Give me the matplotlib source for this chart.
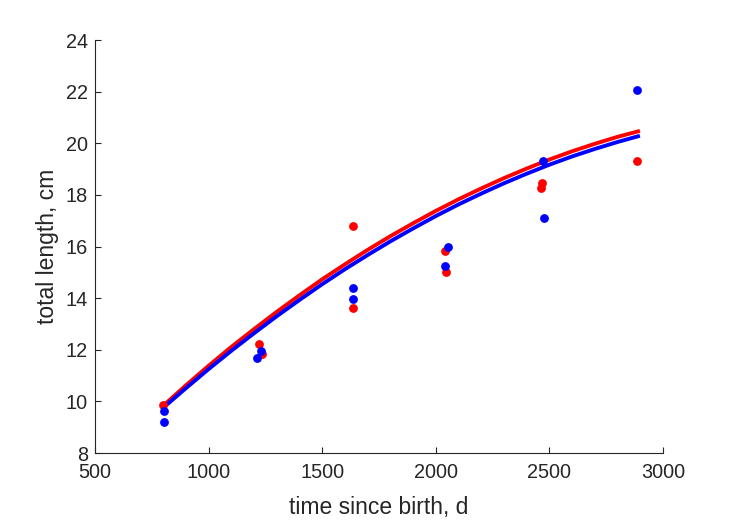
import matplotlib
matplotlib.use('Agg')
import matplotlib.pyplot as plt

blue_t = [804, 804, 1212, 1229, 1636, 1636, 2055, 2042, 2472, 2476, 2887]
blue_L = [9.21, 9.62, 11.67, 11.95, 14.38, 13.97, 15.98, 15.24, 19.32, 17.12, 22.07]
red_t = [801, 1223, 1234, 1634, 1634, 2042, 2046, 2466, 2464, 2887]
red_L = [9.85, 12.21, 11.84, 16.80, 13.63, 15.84, 15.00, 18.45, 18.26, 19.31]

# fitted growth curves
curve_t = [800, 900, 1000, 1100, 1200, 1300, 1400, 1500, 1600, 1700, 1800,
           1900, 2000, 2100, 2200, 2300, 2400, 2500, 2600, 2700, 2800, 2890]
blue_fit = [9.75, 10.51, 11.25, 11.96, 12.64, 13.30, 13.93, 14.54, 15.12, 15.67, 16.20,
            16.70, 17.18, 17.63, 18.05, 18.45, 18.82, 19.17, 19.49, 19.78, 20.05, 20.27]
red_fit = [9.83, 10.62, 11.38, 12.11, 12.80, 13.47, 14.11, 14.73, 15.31, 15.87, 16.40,
           16.90, 17.38, 17.83, 18.25, 18.65, 19.02, 19.37, 19.69, 19.98, 20.25, 20.46]

plt.rcParams['font.family'] = ['Liberation Sans', 'DejaVu Sans']
dark = '#262626'

fig = plt.figure(figsize=(7.29, 5.21), dpi=100)
ax = fig.add_axes([0.1303, 0.1305, 0.7792, 0.7927])

ax.plot(curve_t, red_fit, color='red', lw=2.8, zorder=2)
ax.plot(curve_t, blue_fit, color='blue', lw=2.8, zorder=3)
ax.scatter(red_t, red_L, s=40, color='red', lw=0, zorder=4)
ax.scatter(blue_t, blue_L, s=40, color='blue', lw=0, zorder=5)

ax.set_xlim(500, 3000)
ax.set_ylim(8, 24)
ax.set_xticks(range(500, 3001, 500))
ax.set_yticks(range(8, 25, 2))
ax.spines['top'].set_visible(False)
ax.spines['right'].set_visible(False)
for s in ['left', 'bottom']:
    ax.spines[s].set_color(dark)
    ax.spines[s].set_linewidth(0.8)
ax.tick_params(direction='in', length=4, width=0.8, colors=dark, labelsize=14.3)
ax.tick_params(axis='x', pad=7)
ax.tick_params(axis='y', pad=5)
ax.set_xlabel('time since birth, d', fontsize=16.5, color=dark, labelpad=10)
ax.set_ylabel('total length, cm', fontsize=16.5, color=dark, labelpad=5)

fig.savefig('out.png', dpi=100)
